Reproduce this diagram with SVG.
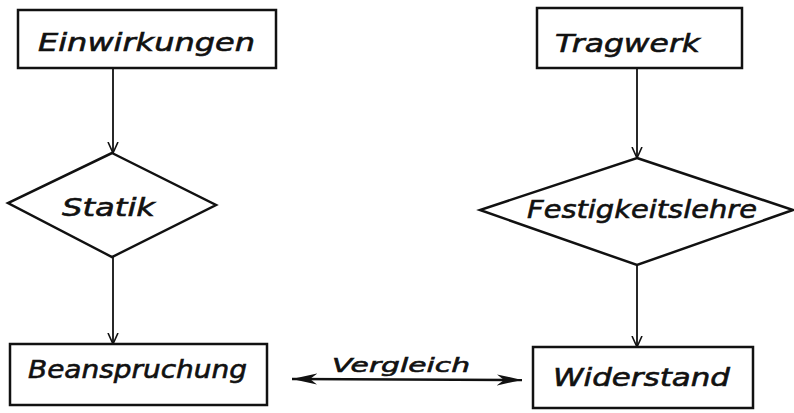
<svg xmlns="http://www.w3.org/2000/svg" width="794" height="413" viewBox="0 0 794 413">
<style>
.box{fill:#fff;stroke:#111;stroke-width:2.5}
.dia{fill:#fff;stroke:#111;stroke-width:2.5;stroke-linejoin:miter}
.lbl{font-family:"DejaVu Sans","Liberation Sans",sans-serif;font-style:italic;font-size:25px;fill:#111;stroke:#111;stroke-width:0.6}
.small{font-size:20px}
.con{stroke:#111;stroke-width:1.8;fill:none}
.dbl{stroke:#111;stroke-width:2.4;fill:none}
</style>
<defs>
<marker id="v" viewBox="0 0 12 12" refX="11" refY="6" markerWidth="12" markerHeight="12" markerUnits="userSpaceOnUse" orient="auto">
<path d="M0,1 L11,6 L0,11" fill="none" stroke="#111" stroke-width="1.6"/>
</marker>
<marker id="f" viewBox="0 0 26 12" refX="25" refY="6" markerWidth="26" markerHeight="12" markerUnits="userSpaceOnUse" orient="auto-start-reverse">
<path d="M0,0.5 L25,6 L0,11.5 L7,6 Z" fill="#111"/>
</marker>
</defs>
<rect width="794" height="413" fill="#fff"/>
<g id="connectors">
<line class="con" x1="113" y1="68" x2="113" y2="153" marker-end="url(#v)"/>
<line class="con" x1="113" y1="257" x2="113" y2="344" marker-end="url(#v)"/>
<line class="con" x1="637" y1="68" x2="637" y2="158" marker-end="url(#v)"/>
<line class="con" x1="637" y1="265" x2="637" y2="347" marker-end="url(#v)"/>
<line class="dbl" x1="292" y1="379" x2="522" y2="380" marker-start="url(#f)" marker-end="url(#f)"/>
<text class="lbl small" x="332" y="372" textLength="138" lengthAdjust="spacingAndGlyphs">Vergleich</text>
</g>
<g id="einwirkungen">
<rect class="box" x="18" y="10" width="258" height="58"/>
<text class="lbl" x="38" y="51" textLength="217" lengthAdjust="spacingAndGlyphs">Einwirkungen</text>
</g>
<g id="tragwerk">
<rect class="box" x="537" y="8" width="205" height="60"/>
<text class="lbl" x="555" y="52" textLength="145" lengthAdjust="spacingAndGlyphs">Tragwerk</text>
</g>
<g id="statik">
<polygon class="dia" points="112,153 216,205 112,257 8,203"/>
<text class="lbl" x="62" y="216" textLength="93" lengthAdjust="spacingAndGlyphs">Statik</text>
</g>
<g id="festigkeitslehre">
<polygon class="dia" points="637,158 793,210 637,265 480,210"/>
<text class="lbl" x="527" y="218" textLength="230" lengthAdjust="spacingAndGlyphs">Festigkeitslehre</text>
</g>
<g id="beanspruchung">
<rect class="box" x="10" y="344" width="257" height="61"/>
<text class="lbl" x="28" y="378" textLength="219" lengthAdjust="spacingAndGlyphs">Beanspruchung</text>
</g>
<g id="widerstand">
<rect class="box" x="533" y="347" width="220" height="61"/>
<text class="lbl" x="553" y="386" textLength="177" lengthAdjust="spacingAndGlyphs">Widerstand</text>
</g>
</svg>
